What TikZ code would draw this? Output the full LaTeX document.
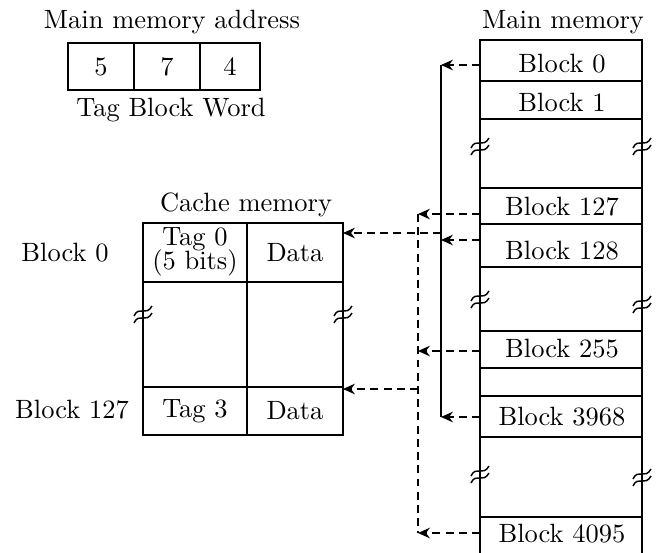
\documentclass[tikz,border=0pt]{standalone}
\usetikzlibrary{arrows.meta}
\tikzset{
  dasharr/.style={dash pattern=on 3pt off 2pt,-{Stealth[length=4.5pt,width=4pt]}},
  dashln/.style={dash pattern=on 3pt off 2pt},
}
\newcommand{\brkmark}[1]{\draw[shift={#1}] (-9,3) .. controls (-4,-8) and (3,4) .. (9,-7) (-9,10) .. controls (-4,-1) and (3,11) .. (9,0);}
\begin{document}
\begin{tikzpicture}[x=0.378pt,y=-0.378pt,line width=0.55pt]
\useasboundingbox (0,0) rectangle (659,553);
% address format
\node (addrtitle) at (172,22) {Main memory address};
\draw (68,43) rectangle (260,90) (134,43)--(134,90) (200,43)--(200,90);
\node (tagf) at (101,67) {5}; \node (blkf) at (167,67) {7}; \node (wrdf) at (230,67) {4};
\node (fields) at (171,110) {Tag Block Word};
% main memory
\node (mmtitle) at (563,22) {Main memory};
\draw (480,553)--(480,40)--(642,40)--(642,553);
\foreach \y in {81,119,188,224,267,331,368,396,437,517} \draw (480,\y)--(642,\y);
\foreach \y/\t in {64/0,102/1,207/127,251/128,349/255,417/3968,534/4095} \node (mm\t) at (562,\y) {Block \t};
\foreach \x/\y in {480/145,642/145,480/298,642/303,480/473,642/476,143/313,343/313} \brkmark{(\x,\y)};
% cache memory
\node (cachetitle) at (246,205) {Cache memory};
\draw (143,223) rectangle (343,435) (247,223)--(247,435) (143,282)--(343,282) (143,387)--(343,387);
\node[align=center,inner sep=0pt] (tag0) at (195,252) {Tag 0\\[-3pt](5 bits)};
\node (data0) at (295,253) {Data};
\node (tag3) at (195,411) {Tag 3}; \node (data3) at (295,411) {Data};
\node (cb0) at (65,253) {Block 0}; \node (cb127) at (72,410) {Block 127};
% mapping
\coordinate (s0) at (480,65);\coordinate (s128) at (480,240);\coordinate (s3968) at (480,417);
\coordinate (t0) at (441,65);\coordinate (t128) at (441,240);\coordinate (t3968) at (441,417);
\coordinate (s127) at (480,214);\coordinate (s255) at (480,351);\coordinate (s4095) at (480,533);
\coordinate (u127) at (418,214);\coordinate (u255) at (418,351);\coordinate (u4095) at (418,533);
\coordinate (j0) at (441,233);\coordinate (c0) at (343,233);
\coordinate (j127) at (418,389);\coordinate (c127) at (343,389);
\draw (t0)--(t3968);
\draw[dashln] (u127)--(u4095);
\foreach \a/\b in {s0/t0,s128/t128,s3968/t3968,s127/u127,s255/u255,s4095/u4095,j0/c0,j127/c127}
  \draw[dasharr] (\a)--(\b);
\end{tikzpicture}
\end{document}
